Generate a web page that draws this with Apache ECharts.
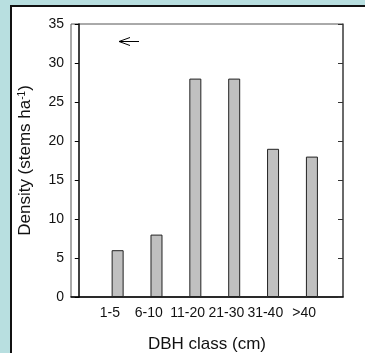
<!DOCTYPE html>
<html>
<head>
<meta charset="utf-8">
<script src="https://cdn.jsdelivr.net/npm/echarts@6/dist/echarts.min.js"></script>
<style>
  html, body { margin: 0; padding: 0; background: #b8dfe0; }
  #chart { width: 365px; height: 353px; }
</style>
</head>
<body>
<div id="chart"></div>
<script>
// DBH classes and stem density per class
var dbhClasses = ['1-5', '6-10', '11-20', '21-30', '31-40', '>40'];
var densityValues = [6, 8, 28, 28, 19, 18];
var yTicks = [0, 5, 10, 15, 20, 25, 30, 35];

var FONT = '"Liberation Sans", Arial, sans-serif';

var chart = echarts.init(document.getElementById('chart'));

// padded category list so the labels land on whole slots 1..6
var labelCats = [''].concat(dbhClasses, ['']);

var barData = dbhClasses.map(function (c, i) {
  return [i + 1, densityValues[i]];
});

var option = {
  backgroundColor: '#b8dfe0',
  animation: false,
  textStyle: { fontFamily: FONT },
  graphic: [
    {
      // white panel with dark border
      type: 'rect', z: -10, silent: true,
      shape: { x: 11, y: 6, width: 400, height: 400 },
      style: { fill: '#ffffff', stroke: '#111111', lineWidth: 2 }
    },
    {
      // small arrow annotation
      type: 'group', z: 10, silent: true,
      children: [
        { type: 'polyline', shape: { points: [[130, 37.5], [119, 41.5], [130, 45.5]] },
          style: { stroke: '#000', lineWidth: 1, fill: null } },
        { type: 'line', shape: { x1: 119, y1: 41.5, x2: 139, y2: 41.5 },
          style: { stroke: '#000', lineWidth: 1 } }
      ]
    }
  ],
  grid: {
    left: 71, right: 22, top: 24, bottom: 56,
    outerBoundsMode: 'none',
    show: true, borderColor: '#555555', borderWidth: 1, backgroundColor: 'transparent'
  },
  xAxis: [
    {
      type: 'category',
      data: labelCats,
      boundaryGap: false,
      name: 'DBH class (cm)',
      nameLocation: 'middle',
      nameGap: 39,
      nameTextStyle: { fontSize: 17, color: '#111', fontFamily: FONT },
      axisLine: { lineStyle: { color: '#000', width: 1.5 } },
      axisTick: { show: false },
      axisLabel: { fontSize: 14, color: '#111', margin: 9, interval: 0, fontFamily: FONT },
      splitLine: { show: false }
    },
    {
      type: 'value',
      min: -0.2,
      max: 6.8,
      show: false
    }
  ],
  yAxis: [
    {
      type: 'value',
      min: yTicks[0],
      max: yTicks[yTicks.length - 1],
      interval: yTicks[1] - yTicks[0],
      name: 'Density (stems ha{sup|-1})',
      nameLocation: 'middle',
      nameGap: 37,
      nameRotate: 90,
      nameTextStyle: {
        fontSize: 17, color: '#111', fontFamily: FONT,
        rich: { sup: { fontSize: 10, verticalAlign: 'top', color: '#111', fontFamily: FONT } }
      },
      axisLine: { show: true, lineStyle: { color: '#000', width: 1.5 } },
      axisTick: { show: true, inside: false, length: 4, lineStyle: { color: '#000' } },
      axisLabel: { fontSize: 14, color: '#111', margin: 7, fontFamily: FONT },
      splitLine: { show: false }
    },
    {
      type: 'value',
      position: 'right',
      min: yTicks[0],
      max: yTicks[yTicks.length - 1],
      interval: yTicks[1] - yTicks[0],
      axisLine: { show: true, lineStyle: { color: '#555', width: 1.5 } },
      axisTick: { show: true, inside: true, length: 5, lineStyle: { color: '#333' } },
      axisLabel: { show: false },
      splitLine: { show: false }
    }
  ],
  series: [
    {
      type: 'bar',
      xAxisIndex: 1,
      yAxisIndex: 0,
      barWidth: 12,
      data: barData,
      itemStyle: { color: '#c0c0c0', borderColor: '#222', borderWidth: 1 }
    }
  ]
};

chart.setOption(option);
</script>
</body>
</html>
